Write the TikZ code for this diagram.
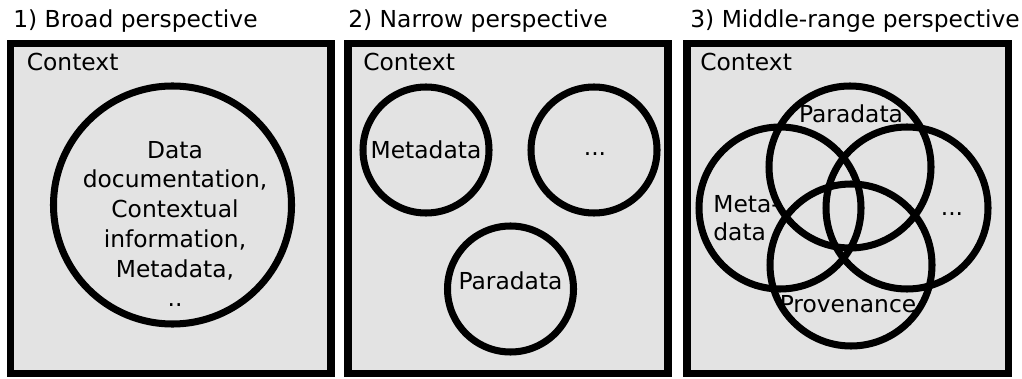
\documentclass[tikz,border=0pt]{standalone}
\usepackage{fontspec}
\setmainfont{DejaVu Sans}
\usepackage{tikz}
\tikzstyle{panel} = [draw,line width=4pt,fill=black!11]
\tikzstyle{ring} = [draw,line width=4pt]
\tikzstyle{lbl} = [inner sep=0pt,anchor=base west]
\tikzstyle{word} = [inner sep=0pt,anchor=base]

\begin{document}
\begin{tikzpicture}[font=\fontsize{13.3}{16.9}\selectfont]
      \useasboundingbox(0,0)rectangle(20.44,7.56);
      % three boxes with their titles
      \draw[panel](0.21,0.09)rectangle(6.62,6.69);
      \draw[panel](6.96,0.09)rectangle(13.36,6.69);
      \draw[panel](13.74,0.09)rectangle(20.17,6.69);
      \node[lbl](t1)at(0.26,7.0){1) Broad perspective};
      \node[lbl](t2)at(6.96,7.0){2) Narrow perspective};
      \node[lbl](t3)at(13.8,7.0){3) Middle-range perspective};
      \node[lbl](c1)at(0.53,6.14){Context};
      \node[lbl](c2)at(7.26,6.14){Context};
      \node[lbl](c3)at(14.0,6.14){Context};
      % 1) one big circle
      \draw[ring](3.45,3.46)circle(2.38);
      \node[align=center,inner sep=0pt](broad)at(3.5,3.08){Data\\documentation,\\Contextual\\information,\\Metadata,\\..};
      % 2) separate circles
      \draw[ring](8.52,4.56)circle(1.26);
      \draw[ring](11.88,4.56)circle(1.26);
      \draw[ring](10.21,1.78)circle(1.26);
      \node[inner sep=0pt](meta2)at(8.52,4.56){Metadata};
      \node[word](etc2)at(11.9,4.44){...};
      \node[inner sep=0pt](para2)at(10.21,1.94){Paradata};
      % 3) overlapping circles
      \draw[ring](15.6,3.4)circle(1.62);
      \draw[ring](17.0,4.22)circle(1.62);
      \draw[ring](18.14,3.4)circle(1.62);
      \draw[ring](17.02,2.26)circle(1.62);
      \node[word](para3)at(17.02,5.1){Paradata};
      \node[lbl](meta3)at(14.26,3.3){Meta-};
      \node[lbl](data3)at(14.26,2.76){data};
      \node[word](etc3)at(19.04,3.26){...};
      \node[word](prov3)at(16.96,1.32){Provenance};
\end{tikzpicture}
\end{document}
